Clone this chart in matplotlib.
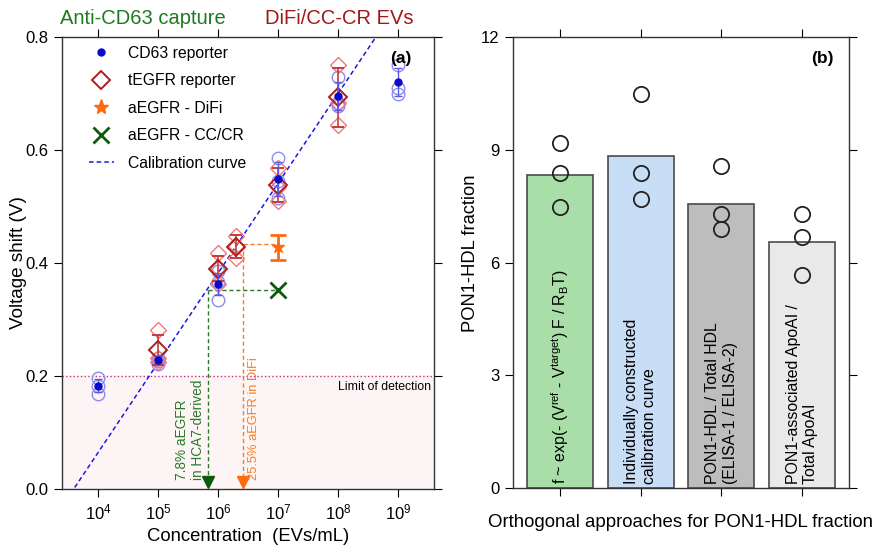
import matplotlib
matplotlib.use("Agg")
import matplotlib.pyplot as plt
import numpy as np
from matplotlib.lines import Line2D
from matplotlib.ticker import FixedLocator, NullLocator, FuncFormatter

plt.rcParams['font.family'] = ['Liberation Sans', 'DejaVu Sans']
plt.rcParams['mathtext.fontset'] = 'custom'
plt.rcParams['mathtext.rm'] = 'Liberation Sans'
plt.rcParams['mathtext.it'] = 'Liberation Sans:italic'

# ---- panel (a) data ----
cd63_conc = [1e4, 1e5, 1e6, 1e7, 1e8, 1e9]
cd63_mean = [0.183, 0.229, 0.363, 0.548, 0.696, 0.720]
cd63_sd = [0.012, 0.006, 0.020, 0.030, 0.025, 0.025]
cd63_reps = [[0.197, 0.183, 0.168], [0.232, 0.226, 0.222], [0.386, 0.367, 0.334],
             [0.585, 0.545, 0.515], [0.729, 0.683, 0.678], [0.750, 0.709, 0.700]]

tegfr_conc = [1e5, 1e6, 2e6, 1e7, 1e8]
tegfr_mean = [0.246, 0.390, 0.429, 0.538, 0.693]
tegfr_sd = [0.027, 0.022, 0.020, 0.030, 0.052]
tegfr_reps = [[0.281, 0.225, 0.232], [0.417, 0.392, 0.362], [0.447, 0.430, 0.408],
              [0.568, 0.535, 0.510], [0.750, 0.683, 0.644]]

difi_conc = [1e7]
difi_v = [0.428]
difi_sd = [0.022]
cccr_conc = [1e7]
cccr_v = [0.352]

calib_conc = [10**3.4, 10**8.7]
calib_v = [-0.031, 0.811]
lod = 0.2

difi_read_conc = 2.6e6
difi_read_v = 0.433
cccr_read_conc = 6.9e5
cccr_read_v = 0.352

# ---- panel (b) data ----
methods = ["f ~ exp(- (V$^{\\rm ref}$ - V$^{\\rm target}$) F / R$_{\\rm B}$T)",
           "Individually constructed\ncalibration curve",
           "PON1-HDL / Total HDL\n(ELISA-1 / ELISA-2)",
           "PON1-associated ApoAI /\nTotal ApoAI"]
fraction = [8.33, 8.84, 7.57, 6.54]
fraction_reps = [[9.18, 8.37, 7.48], [10.48, 8.37, 7.69], [8.57, 7.28, 6.88], [7.28, 6.67, 5.68]]
bar_colors = ['#a9dea9', '#c8ddf6', '#bdbdbd', '#e9e9e9']

c_blue = '#0a0acc'
c_red = '#b01c1c'
c_orange = '#ff6a0a'
c_green = '#0d5a0d'

fig = plt.figure(figsize=(8.77, 5.46), dpi=100)
ax1 = fig.add_axes([0.0707, 0.1044, 0.4242, 0.8278])
ax2 = fig.add_axes([0.585, 0.1062, 0.383, 0.826])

# ---------- (a) ----------
ax1.set_xscale('log')
ax1.set_xlim(10**3.4, 10**9.6)
ax1.set_ylim(0, 0.8)
ax1.axhspan(0, lod, color='#fdf5f5', zorder=0)
ax1.axhline(lod, color='#c0307a', ls=':', lw=1, zorder=1)
ax1.text(10**9.55, lod - 0.009, "Limit of detection", ha='right', va='top', fontsize=8.8)

ax1.plot(calib_conc, calib_v, color='#1a1adb', ls=(0, (3, 2)), lw=1.1, zorder=2)

for c, reps in zip(cd63_conc, cd63_reps):
    ax1.plot([c] * len(reps), reps, 'o', mfc='none', mec='#8c8cf0', ms=9, mew=1, zorder=3)
for c, reps in zip(tegfr_conc, tegfr_reps):
    ax1.plot([c] * len(reps), reps, 'D', mfc='none', mec='#f07878', ms=8, mew=1, zorder=3)

ax1.errorbar(tegfr_conc, tegfr_mean, yerr=tegfr_sd, fmt='D', mfc='none', mec=c_red, ms=9,
             mew=1.4, ecolor='#c43c3c', elinewidth=1.2, capsize=4, zorder=4)
ax1.errorbar(cd63_conc, cd63_mean, yerr=cd63_sd, fmt='o', color=c_blue, ms=5,
             ecolor='#5a5ae0', elinewidth=1, capsize=3, zorder=5)

# readout guides
ax1.plot([difi_read_conc, difi_conc[0]], [difi_read_v, difi_read_v], color='#ff7a1a', lw=1, ls=(0, (3, 2)))
ax1.plot([difi_read_conc, difi_read_conc], [difi_read_v, 0.02], color='#ff7a1a', lw=1, ls=(0, (3, 2)))
ax1.plot([difi_read_conc], [0.012], 'v', color=c_orange, ms=8, clip_on=False)
ax1.plot([cccr_read_conc, cccr_conc[0]], [cccr_read_v, cccr_read_v], color='#2a7a2a', lw=1, ls=(0, (3, 2)))
ax1.plot([cccr_read_conc, cccr_read_conc], [cccr_read_v, 0.02], color='#2a7a2a', lw=1, ls=(0, (3, 2)))
ax1.plot([cccr_read_conc], [0.012], 'v', color=c_green, ms=8, clip_on=False)

ax1.errorbar(difi_conc, difi_v, yerr=difi_sd, fmt='*', color=c_orange, ms=9,
             elinewidth=2, capsize=6, capthick=2, zorder=5)
ax1.plot(cccr_conc, cccr_v, 'x', color=c_green, ms=11, mew=2, zorder=5)

ax1.text(cccr_read_conc * 0.88, 0.016, "7.8% aEGFR\nin HCA7-derived", rotation=90,
         ha='right', va='bottom', color='#2a7a2a', fontsize=9.8, multialignment='left')
ax1.text(difi_read_conc * 1.2, 0.016, "25.5% aEGFR in DiFi", rotation=90,
         ha='left', va='bottom', color='#ff7a1a', fontsize=9.3)

ax1.xaxis.set_major_locator(FixedLocator([1e4, 1e5, 1e6, 1e7, 1e8, 1e9]))
ax1.xaxis.set_minor_locator(NullLocator())
ax1.xaxis.set_major_formatter(FuncFormatter(lambda v, p: "$10^{%d}$" % round(np.log10(v))))
ax1.set_yticks([0.0, 0.2, 0.4, 0.6, 0.8])
ax1.yaxis.set_major_formatter(FuncFormatter(lambda v, p: "%.1f" % v))
ax1.tick_params(direction='out', length=6, labelsize=12, top=True, right=True)
ax1.set_xlabel("Concentration  (EVs/mL)", fontsize=13.3)
ax1.set_ylabel("Voltage shift (V)", fontsize=13.6, va='center')
ax1.yaxis.set_label_coords(-0.118, 0.5)
ax1.text(0.94, 0.97, "(a)", transform=ax1.transAxes, ha='right', va='top',
         fontsize=12.5, fontweight='bold')
ax1.text(-0.005, 1.02, "Anti-CD63 capture", transform=ax1.transAxes, ha='left', va='bottom',
         color='#1e7a1e', fontsize=14.5)
ax1.text(0.945, 1.02, "DiFi/CC-CR EVs", transform=ax1.transAxes, ha='right', va='bottom',
         color='#a01818', fontsize=14.5)

handles = [
    Line2D([], [], ls='none', marker='o', color=c_blue, ms=5),
    Line2D([], [], ls='none', marker='D', mfc='none', mec=c_red, ms=9, mew=1.4),
    Line2D([], [], ls='none', marker='*', color=c_orange, ms=11),
    Line2D([], [], ls='none', marker='x', color=c_green, ms=11, mew=2),
    Line2D([], [], color='#1a1adb', ls=(0, (3, 2)), lw=1.1),
]
labels = ['CD63 reporter', 'tEGFR reporter', 'aEGFR - DiFi', 'aEGFR - CC/CR', 'Calibration curve']
ax1.legend(handles, labels, loc='upper left', frameon=False, fontsize=11.3,
           handlelength=1.6, handletextpad=0.9, labelspacing=0.8, borderaxespad=0,
           bbox_to_anchor=(0.055, 0.995))

# ---------- (b) ----------
xpos = np.arange(len(methods))
ax2.bar(xpos, fraction, width=0.82, color=bar_colors, edgecolor='#4a4a4a', linewidth=1.2, zorder=2)
for x, reps in zip(xpos, fraction_reps):
    ax2.plot([x] * len(reps), reps, 'o', mfc='none', mec='#222222', ms=11, mew=1.3, zorder=3)
for x, name in zip(xpos, methods):
    ax2.text(x, 0.1, name, rotation=90, ha='center', va='bottom', fontsize=11.4,
             multialignment='left', zorder=4)
ax2.set_xlim(-0.58, 3.58)
ax2.set_ylim(0, 12)
ax2.set_yticks([0, 3, 6, 9, 12])
ax2.set_xticks(xpos)
ax2.set_xticklabels([])
ax2.tick_params(direction='out', length=6, labelsize=12, top=True, right=True)
ax2.set_xlabel("Orthogonal approaches for PON1-HDL fraction", fontsize=13.4, labelpad=9)
ax2.set_ylabel("PON1-HDL fraction", fontsize=13.2, va='center')
ax2.yaxis.set_label_coords(-0.128, 0.52)
ax2.text(0.955, 0.97, "(b)", transform=ax2.transAxes, ha='right', va='top',
         fontsize=12.5, fontweight='bold')

for ax in (ax1, ax2):
    for s in ax.spines.values():
        s.set_linewidth(1.0)
        s.set_color('#333333')

fig.savefig("out.png", dpi=100)
